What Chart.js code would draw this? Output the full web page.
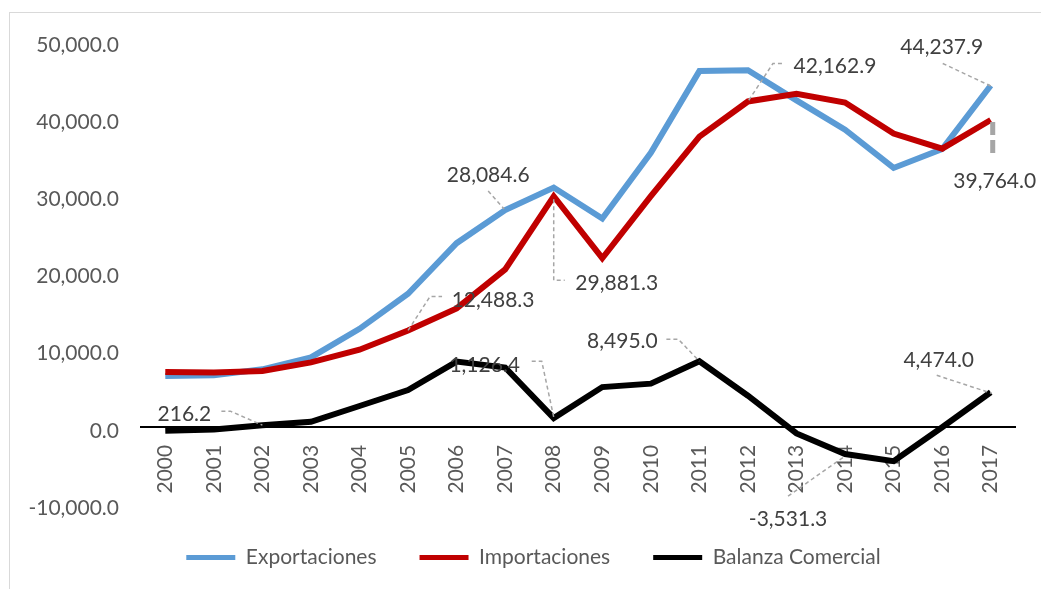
<!DOCTYPE html>
<html>
<head>
<meta charset="utf-8">
<title>Balanza Comercial</title>
<script src="https://cdn.jsdelivr.net/npm/chart.js@4.4.0/dist/chart.umd.min.js"></script>
<style>
  html, body { margin: 0; padding: 0; background: #fff; }
  #wrap { position: relative; width: 1041px; height: 589px; overflow: hidden; }
  #frame { position: absolute; left: 9px; top: 12px; width: 1040px; height: 600px; border: 1px solid #d9d9d9; }
  #chart { position: absolute; left: 0; top: 0; }
</style>
</head>
<body>
<div id="wrap">
  <div id="frame"></div>
  <canvas id="chart" width="1041" height="589"></canvas>
</div>
<script>
// data
var years = ['2000', '2001', '2002', '2003', '2004', '2005', '2006', '2007', '2008',
  '2009', '2010', '2011', '2012', '2013', '2014', '2015', '2016', '2017'];
var exportaciones = [6600, 6700, 7450, 9000, 12700, 17250, 23800, 28084.6, 31007.7,
  27000, 35500, 46100, 46200, 42300, 38500, 33550, 36000, 44237.9];
var importaciones = [7100, 7050, 7235, 8350, 10000, 12488.3, 15350, 20400, 29881.3,
  21850, 29900, 37605, 42162.9, 43150, 42031.3, 38000, 36050, 39764.0];
var balanza = [-500, -350, 216.2, 650, 2700, 4760, 8450, 7685, 1126.4,
  5150, 5600, 8495.0, 4037, -850, -3531.3, -4450, -50, 4474.0];
var seriesNames = ['Exportaciones', 'Importaciones', 'Balanza Comercial'];
var yMin = -10000, yMax = 50000, yStep = 10000;

var colors = ['#5b9bd5', '#c00000', '#000000'];
var font = { family: 'Lato', size: 21 };

function fmt(v) {
  return Number(v).toLocaleString('en-US', { minimumFractionDigits: 1, maximumFractionDigits: 1 });
}

// where each data label sits, relative to its point (pixels), with the leader line
var calloutLayout = [
  { ds: 0, i: 7,  dx: -17, dy: -35, path: [[-17, -19], [-1, -1]] },
  { ds: 1, i: 8,  dx: 63,  dy: 87,  path: [[0, 3], [0, 84], [11, 84]] },
  { ds: 1, i: 5,  dx: 85,  dy: -30, path: [[0, 0], [22, -34], [34, -34]] },
  { ds: 2, i: 8,  dx: -69, dy: -53, path: [[-22, -57], [-12, -57], [0, -1]] },
  { ds: 2, i: 2,  dx: -78, dy: -11, path: [[-41, -14], [-32, -14], [0, 0]] },
  { ds: 2, i: 11, dx: -77, dy: -20, path: [[-33, -22], [-21, -22], [0, 0]] },
  { ds: 2, i: 14, dx: -57, dy: 65,  path: [[-57, 42], [0, 2]] },
  { ds: 2, i: 17, dx: -52, dy: -32, path: [[-54, -17], [1, 1]] },
  { ds: 0, i: 17, dx: -49, dy: -38, path: [[-48, -22], [1, 1]] },
  { ds: 1, i: 17, dx: 4,   dy: 61,  path: [[2, 2], [2, 36]], lw: 5, dash: [13, 5] },
  { ds: 1, i: 12, dx: 87,  dy: -35, path: [[34, -38], [25, -38], [0, 0]] }
];

var callouts = {
  id: 'callouts',
  afterLayout: function (chart) {
    // legend sits a little right of the canvas centre in the original
    chart.legend.left += 26;
    chart.legend.right += 26;
  },
  afterDatasetsDraw: function (chart) {
    var ctx = chart.ctx;
    calloutLayout.forEach(function (c) {
      var pt = chart.getDatasetMeta(c.ds).data[c.i];
      var x = pt.x, y = pt.y;
      ctx.save();
      ctx.strokeStyle = '#a6a6a6';
      ctx.lineWidth = c.lw || 1.5;
      ctx.setLineDash(c.dash || [4, 3]);
      ctx.beginPath();
      c.path.forEach(function (p, k) {
        if (k === 0) ctx.moveTo(x + p[0], y + p[1]);
        else ctx.lineTo(x + p[0], y + p[1]);
      });
      ctx.stroke();
      ctx.setLineDash([]);
      ctx.fillStyle = '#404040';
      ctx.font = '21px Lato';
      ctx.textAlign = 'center';
      ctx.textBaseline = 'middle';
      ctx.fillText(fmt(chart.data.datasets[c.ds].data[c.i]), x + c.dx, y + c.dy);
      ctx.restore();
    });
  }
};

function makeSet(k, values, order) {
  return {
    label: seriesNames[k],
    data: values,
    borderColor: colors[k],
    backgroundColor: colors[k],
    borderWidth: 6,
    pointRadius: 0,
    tension: 0,
    order: order
  };
}

new Chart(document.getElementById('chart'), {
  type: 'line',
  data: {
    labels: years,
    datasets: [
      makeSet(0, exportaciones, 3),
      makeSet(1, importaciones, 2),
      makeSet(2, balanza, 1)
    ]
  },
  options: {
    responsive: false,
    animation: false,
    devicePixelRatio: 1,
    layout: { padding: { top: 41, left: 0, right: 26, bottom: 11 } },
    scales: {
      x: {
        type: 'category',
        offset: true,
        position: { y: 0 },
        grid: { display: false, drawTicks: false },
        border: { display: true, color: '#000000', width: 2 },
        ticks: {
          autoSkip: false,
          minRotation: 90,
          maxRotation: 90,
          padding: 18,
          color: '#595959',
          font: font
        }
      },
      y: {
        min: yMin,
        max: yMax,
        grid: { display: false, drawTicks: false },
        border: { display: false },
        ticks: {
          stepSize: yStep,
          padding: 22,
          labelOffset: 4,
          color: '#595959',
          font: font,
          callback: function (v) { return fmt(v); }
        },
        afterFit: function (scale) { scale.width = 141; }
      }
    },
    plugins: {
      tooltip: { enabled: false },
      legend: {
        position: 'bottom',
        labels: {
          boxWidth: 49,
          boxHeight: 5,
          padding: 43,
          color: '#595959',
          font: font,
          sort: function (a, b) { return a.datasetIndex - b.datasetIndex; },
          generateLabels: function (chart) {
            var items = Chart.defaults.plugins.legend.labels.generateLabels(chart);
            items.forEach(function (it) { it.lineWidth = 0; });
            return items;
          }
        }
      }
    }
  },
  plugins: [callouts]
});
</script>
</body>
</html>
